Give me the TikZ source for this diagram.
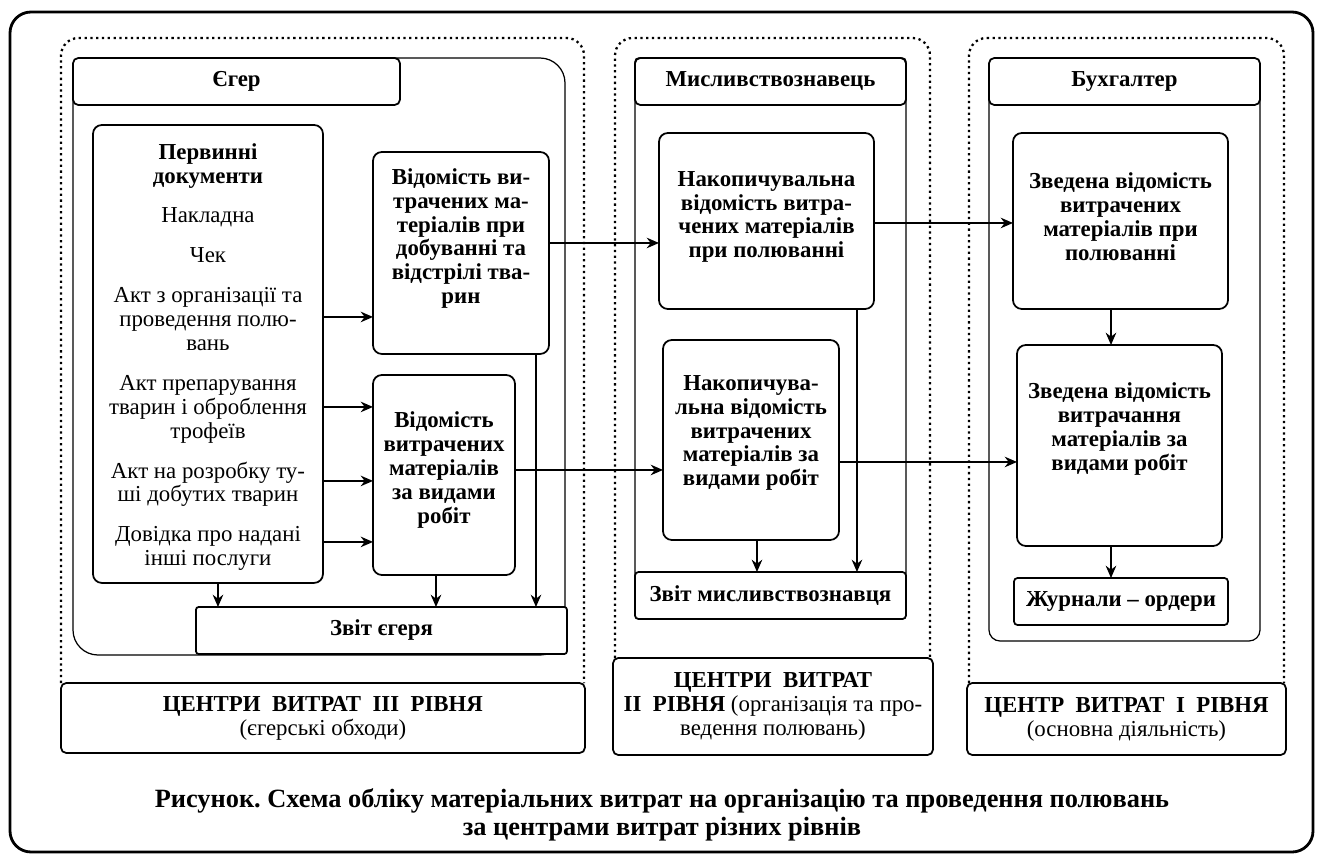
\documentclass[tikz,border=0pt]{standalone}
\usepackage{fontspec}
\setmainfont{Liberation Serif}
\usetikzlibrary{arrows.meta}
\frenchspacing

\newcommand\bodyfont{\fontsize{13}{13.6}\selectfont}
\newcommand\capfont{\fontsize{15}{15.6}\selectfont}

\tikzset{
  frame/.style={draw, line width=1.6pt, rounded corners=0.42cm},
  zone/.style={draw, dotted, line width=1.3pt, rounded corners=0.35cm},
  pane/.style={draw, line width=0.7pt, rounded corners=#1},
  box/.style={draw, fill=white, line width=1pt, rounded corners=5pt, anchor=north west, inner sep=0pt, outer sep=0pt},
  hdr/.style={box, rounded corners=3pt, font=\bodyfont\bfseries},
  level/.style={box, rounded corners=3pt, align=center, font=\bodyfont},
  txt/.style={align=center, inner sep=0pt, font=\bodyfont\bfseries},
}

\begin{document}
\begin{tikzpicture}[x=0.02cm, y=-0.02cm, line width=1pt,
  >={Stealth[length=7pt, width=6pt]}]
\useasboundingbox (0,0) rectangle (1317,858);
\draw[frame] (10,12) rectangle (1313,852);

% cost centre zones
\draw[zone] (61,683) -- (61,38) -- (584,38) -- (584,683);
\draw[zone] (615,658) -- (615,38) -- (930,38) -- (930,658);
\draw[zone] (969,683) -- (969,38) -- (1284,38) -- (1284,683);
\draw[pane=0.5cm] (73,58) rectangle (565,655);
\draw[pane=2pt] (635,58) rectangle (906,619);
\draw[pane=0.22cm] (989,58) rectangle (1260,641);

% level III
\node[hdr, minimum width=6.54cm, minimum height=0.94cm] (eger) at (73,58) {Єгер};
\node[box, minimum width=4.6cm, minimum height=9.16cm, align=center, font=\bodyfont] (pd) at (93,125) {};
\node[align=center, inner sep=0pt, font=\bodyfont, yshift=-0.06cm] at (pd)
  {\textbf{Первинні}\\\textbf{документи}\\[0.32cm]Накладна\\[0.32cm]Чек\\[0.32cm]Акт з організації та\\проведення полю-\\вань\\[0.32cm]Акт препарування\\тварин і оброблення\\трофеїв\\[0.32cm]Акт на розробку ту-\\ші добутих тварин\\[0.32cm]Довідка про надані\\інші послуги};
\node[box, minimum width=3.52cm, minimum height=4.04cm] (v1) at (373,152) {};
\node[txt, yshift=0.29cm] at (v1) {Відомість ви-\\трачених ма-\\теріалів при\\добуванні та\\відстрілі тва-\\рин};
\node[box, minimum width=2.84cm, minimum height=4cm] (v2) at (373,375) {};
\node[txt, yshift=0.1cm] at (v2) {Відомість\\витрачених\\матеріалів\\за видами\\робіт};
\node[hdr, rounded corners=1.5pt, minimum width=7.42cm, minimum height=0.94cm] (zv1) at (196,607) {Звіт єгеря};
\node[level, minimum width=10.48cm, minimum height=1.4cm] (lvl3) at (61,683)
  {\textbf{ЦЕНТРИ~ ВИТРАТ~ III~ РІВНЯ}\\(єгерські обходи)};

% level II
\node[hdr, minimum width=5.42cm, minimum height=0.94cm] (mys) at (635,58) {Мисливствознавець};
\node[box, minimum width=4.3cm, minimum height=3.52cm] (n1) at (659,133) {};
\node[txt, yshift=0.08cm] at (n1) {Накопичувальна\\відомість витра-\\чених матеріалів\\при полюванні};
\node[box, minimum width=3.52cm, minimum height=4cm] (n2) at (663,340) {};
\node[txt, yshift=0.14cm] at (n2) {Накопичува-\\льна відомість\\витрачених\\матеріалів за\\видами робіт};
\node[hdr, rounded corners=2pt, minimum width=5.42cm, minimum height=0.94cm] (zv2) at (635,572) {Звіт мисливствознавця};
\node[level, minimum width=6.4cm, minimum height=1.94cm] (lvl2) at (613,658)
  {\textbf{ЦЕНТРИ~ ВИТРАТ}\\\textbf{II~ РІВНЯ} (організація та про-\\ведення полювань)};

% level I
\node[hdr, minimum width=5.42cm, minimum height=0.94cm] (buh) at (989,58) {Бухгалтер};
\node[box, minimum width=4.3cm, minimum height=3.52cm] (z1) at (1013,133) {};
\node[txt, yshift=0.08cm] at (z1) {Зведена відомість\\витрачених\\матеріалів при\\полюванні};
\node[box, minimum width=4.1cm, minimum height=4.02cm] (z2) at (1017,345) {};
\node[txt, yshift=0.33cm] at (z2) {Зведена відомість\\витрачання\\матеріалів за\\видами робіт};
\node[hdr, rounded corners=2pt, minimum width=4.28cm, minimum height=0.94cm] (jo) at (1014,578) {Журнали -- ордери};
\node[level, minimum width=6.38cm, minimum height=1.44cm] (lvl1) at (967,683)
  {\textbf{ЦЕНТР~ ВИТРАТ~ I~ РІВНЯ}\\(основна діяльність)};

% flows
\foreach \dy/\s/\t in {0.74/pd/v1, -1.06/pd/v2, -2.54/pd/v2, -3.76/pd/v2,
    0.2/v1/n1, 0.1/v2/n2, -0.04/n1/z1, -0.44/n2/z2}
  \draw[->] ([yshift=\dy cm]\s.east) coordinate (a) -- (a -| \t.west);
\foreach \dx/\s/\t in {0.2/pd/zv1, -0.16/v2/zv1, 1.5/v1/zv1, 0.12/n2/zv2,
    1.81/n1/zv2, -0.19/z1/z2, -0.17/z2/jo}
  \draw[->] ([xshift=\dx cm]\s.south) coordinate (a) -- (a |- \t.north);

\node[align=center, font=\capfont\bfseries] (cap) at (662,815)
  {Рисунок. Схема обліку матеріальних витрат на організацію та проведення полювань\\за центрами витрат різних рівнів};
\end{tikzpicture}
\end{document}
